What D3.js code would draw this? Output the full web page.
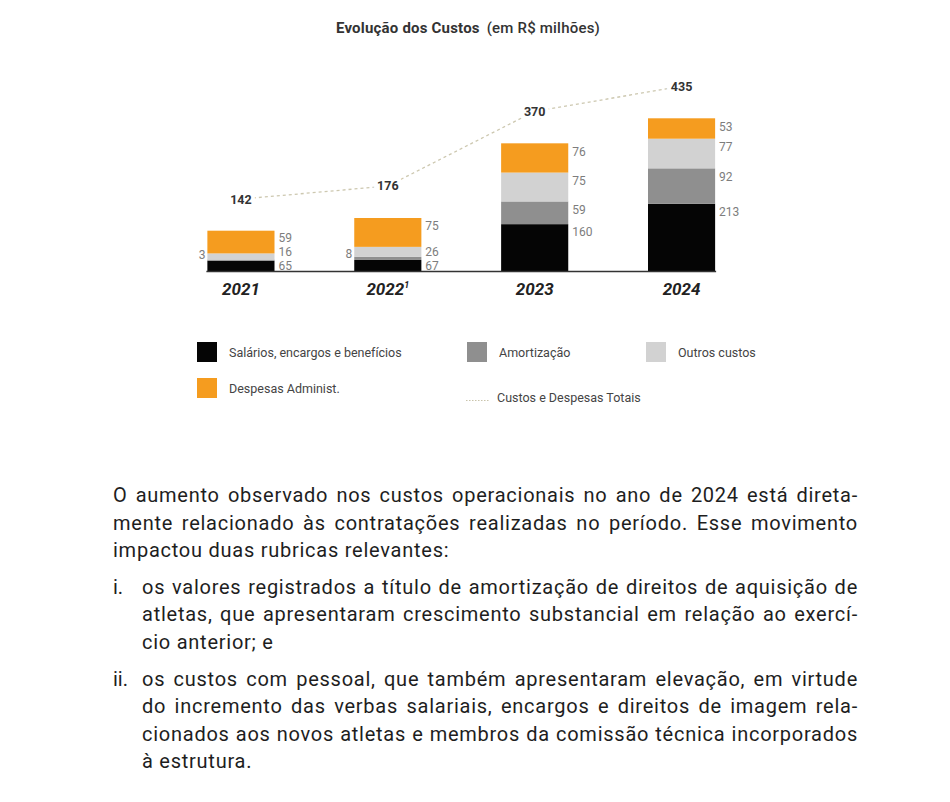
<!DOCTYPE html>
<html>
<head>
<meta charset="utf-8">
<script src="https://cdn.jsdelivr.net/npm/d3@7"></script>
<style>
  html, body { margin: 0; padding: 0; background: #fff; }
  svg { display: block; }
  text { font-family: Roboto, "Noto Sans", sans-serif; }
</style>
</head>
<body>
<script>
// ---------- DATA ----------
const years = ["2021", "2022", "2023", "2024"];
const yearSup = ["", "1", "", ""];
const salarios = [65, 67, 160, 213];
const amortizacao = [3, 8, 59, 92];
const outros = [16, 26, 75, 77];
const despesas = [59, 75, 76, 53];
const totais = [142, 176, 370, 435];

const seriesNames = ["Salários, encargos e benefícios", "Amortização", "Outros custos", "Despesas Administ."];
const lineName = "Custos e Despesas Totais";
const titleBold = "Evolução dos Custos";
const titleRest = "(em R$ milhões)";

const para1 = [
  "O aumento observado nos custos operacionais no ano de 2024 está direta-",
  "mente relacionado às contratações realizadas no período. Esse movimento",
  "impactou duas rubricas relevantes:"
];
const item1 = [
  "os valores registrados a título de amortização de direitos de aquisição de",
  "atletas, que apresentaram crescimento substancial em relação ao exercí-",
  "cio anterior; e"
];
const item2 = [
  "os custos com pessoal, que também apresentaram elevação, em virtude",
  "do incremento das verbas salariais, encargos e direitos de imagem rela-",
  "cionados aos novos atletas e membros da comissão técnica incorporados",
  "à estrutura."
];

// ---------- STYLE ----------
const colors = ["#050505", "#8f8f8f", "#d2d2d2", "#f59c1f"];
const W = 950, H = 802;

const svg = d3.select("body").append("svg").attr("width", W).attr("height", H);
svg.append("rect").attr("width", W).attr("height", H).attr("fill", "#fff");

// title
const title = svg.append("text").attr("x", 468).attr("y", 33).attr("text-anchor", "middle")
  .attr("font-size", 15).attr("letter-spacing", 0.2).attr("fill", "#333");
title.append("tspan").attr("font-weight", 700).text(titleBold);
title.append("tspan").attr("font-weight", 500).attr("dx", 7).text(titleRest);

// scales
const x = d3.scaleBand().domain(years).range([167.5, 755]).paddingInner(0.543).paddingOuter(0.2715);
const y = d3.scaleLinear().domain([37, 435]).range([271.5, 118.3]).clamp(true);
const bw = x.bandwidth();

const rows = years.map((yr, i) => ({ year: yr, sup: yearSup[i], s0: salarios[i], s1: amortizacao[i], s2: outros[i], s3: despesas[i], total: totais[i] }));
const keys = ["s0", "s1", "s2", "s3"];
const stack = d3.stack().keys(keys)(rows);

const g = svg.append("g");
stack.forEach((layer, li) => {
  g.selectAll(null).data(layer).join("rect")
    .attr("x", d => x(d.data.year))
    .attr("width", bw)
    .attr("y", d => y(d[1]))
    .attr("height", d => y(d[0]) - y(d[1]))
    .attr("fill", colors[li]);
});

// baseline
svg.append("line")
  .attr("x1", x(years[0]) - 1).attr("x2", x(years[years.length - 1]) + bw + 1)
  .attr("y1", y.range()[0]).attr("y2", y.range()[0])
  .attr("stroke", "#333").attr("stroke-width", 1.4);

// value labels
years.forEach((yr, i) => {
  const labs = [];
  stack.forEach((layer, li) => {
    const d = layer[i];
    const top = y(d[1]), bot = y(d[0]);
    const h = bot - top;
    const val = d[1] - d[0];
    if (li === 1 && h < 6) {
      labs.push({ side: "left", y: (top + bot) / 2 - 5, val });
    } else {
      labs.push({ side: "right", y: top + Math.min(h / 2, 8), val });
    }
  });
  const right = labs.filter(l => l.side === "right");
  for (let k = 1; k < right.length; k++) {
    if (right[k].y > right[k - 1].y - 14) right[k].y = right[k - 1].y - 14;
  }
  labs.forEach(l => {
    svg.append("text")
      .attr("x", l.side === "right" ? x(yr) + bw + 4 : x(yr) - 2)
      .attr("y", l.y)
      .attr("dy", "0.36em")
      .attr("text-anchor", l.side === "right" ? "start" : "end")
      .attr("font-size", 12)
      .attr("fill", "#7d7d7d")
      .text(l.val);
  });
});

// total line
const lineGen = d3.line().x(d => x(d.year) + bw / 2).y(d => y(d.total) - 32);
svg.append("path").datum(rows).attr("d", lineGen)
  .attr("fill", "none").attr("stroke", "#cdc8b0").attr("stroke-width", 1.3)
  .attr("stroke-dasharray", "3,3");
svg.selectAll(null).data(rows).join("text")
  .attr("x", d => x(d.year) + bw / 2)
  .attr("y", d => y(d.total) - 32)
  .attr("dy", "0.36em")
  .attr("text-anchor", "middle")
  .attr("font-size", 12.5).attr("font-weight", 700).attr("fill", "#333")
  .attr("stroke", "#fff").attr("stroke-width", 8).attr("paint-order", "stroke")
  .text(d => d.total);

// year labels
const yl = svg.selectAll(null).data(rows).join("text")
  .attr("x", d => x(d.year) + bw / 2)
  .attr("y", 294.5)
  .attr("text-anchor", "middle")
  .attr("font-size", 17).attr("font-weight", 700).attr("font-style", "italic")
  .attr("fill", "#222");
yl.append("tspan").text(d => d.year);
yl.filter(d => d.sup).append("tspan").attr("font-size", 9).attr("dy", -7).text(d => d.sup);

// legend
const legendItems = [
  { name: seriesNames[0], color: colors[0], x: 197, y: 342 },
  { name: seriesNames[1], color: colors[1], x: 467, y: 342 },
  { name: seriesNames[2], color: colors[2], x: 646, y: 342 },
  { name: seriesNames[3], color: colors[3], x: 197, y: 378 }
];
legendItems.forEach(it => {
  svg.append("rect").attr("x", it.x).attr("y", it.y).attr("width", 20).attr("height", 20).attr("fill", it.color);
  svg.append("text").attr("x", it.x + 32).attr("y", it.y + 10).attr("dy", "0.36em")
    .attr("font-size", 12.5).attr("fill", "#444").text(it.name);
});
svg.append("line").attr("x1", 466).attr("x2", 489).attr("y1", 400.5).attr("y2", 400.5)
  .attr("stroke", "#c9c4ab").attr("stroke-width", 1.2).attr("stroke-dasharray", "1.5,1.5");
svg.append("text").attr("x", 497).attr("y", 397).attr("dy", "0.36em")
  .attr("font-size", 12.5).attr("fill", "#444").text(lineName);

// paragraph text
const right = 858, left = 113, indent = 142;
const lh = 27.4;
const ls = 0.75;
function writeLine(str, xStart, yBase, justify) {
  const t = svg.append("text").attr("x", xStart).attr("y", yBase)
    .attr("font-size", 20).attr("letter-spacing", ls).attr("fill", "#1e1e1e")
    .attr("xml:space", "preserve").text(str);
  if (justify) {
    const nat = t.node().getComputedTextLength();
    const spaces = (str.match(/ /g) || []).length;
    if (spaces > 0) t.style("word-spacing", ((right - xStart - nat) / spaces) + "px");
  }
}
let yb = 502.3;
para1.forEach((s, i) => writeLine(s, left, yb + i * lh, i < para1.length - 1));
yb = 594;
svg.append("text").attr("x", left).attr("y", yb).attr("font-size", 20).attr("fill", "#1e1e1e").text("i.");
item1.forEach((s, i) => writeLine(s, indent, yb + i * lh, i < item1.length - 1));
yb = 685.8;
svg.append("text").attr("x", left).attr("y", yb).attr("font-size", 20).attr("fill", "#1e1e1e").text("ii.");
item2.forEach((s, i) => writeLine(s, indent, yb + i * lh, i < item2.length - 1));
</script>
</body>
</html>
